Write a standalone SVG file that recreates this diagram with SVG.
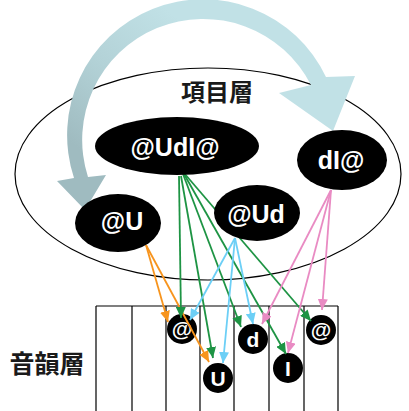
<svg xmlns="http://www.w3.org/2000/svg" width="409" height="411" viewBox="0 0 409 411">
<style>
.lbl{font-family:"Noto Sans CJK JP","Noto Sans CJK TC",sans-serif;font-weight:bold;fill:#1a1a1a;text-anchor:middle}
.nt{font-family:"Liberation Sans",Arial,sans-serif;font-weight:bold;fill:#fff;text-anchor:middle}
.st{font-family:"Liberation Sans",Arial,sans-serif;font-weight:bold;fill:#fff;text-anchor:middle;font-size:21px}
.tbl{stroke:#000;stroke-width:1.2;fill:none}
.c{fill:none;stroke-width:1.8}
.o{stroke:#F7941D}.g{stroke:#1E9444}.b{stroke:#6CCFF6}.p{stroke:#E98BC3}
</style>
<defs>
<linearGradient id="bg" gradientUnits="userSpaceOnUse" x1="80" y1="150" x2="180" y2="20">
<stop offset="0" stop-color="#9FBBC0"/>
<stop offset="0.5" stop-color="#B3D2D7"/>
<stop offset="1" stop-color="#C1E1E6"/>
</linearGradient>
<marker id="mo" markerUnits="userSpaceOnUse" markerWidth="11" markerHeight="10" refX="11" refY="5" orient="auto"><path d="M0,0 L11,5 L0,10 z" fill="#F7941D"/></marker>
<marker id="mg" markerUnits="userSpaceOnUse" markerWidth="11" markerHeight="10" refX="11" refY="5" orient="auto"><path d="M0,0 L11,5 L0,10 z" fill="#1E9444"/></marker>
<marker id="mb" markerUnits="userSpaceOnUse" markerWidth="11" markerHeight="10" refX="11" refY="5" orient="auto"><path d="M0,0 L11,5 L0,10 z" fill="#6CCFF6"/></marker>
<marker id="mp" markerUnits="userSpaceOnUse" markerWidth="11" markerHeight="10" refX="11" refY="5" orient="auto"><path d="M0,0 L11,5 L0,10 z" fill="#E98BC3"/></marker>
</defs>
<rect width="409" height="411" fill="#fff"/>
<g id="item-layer">
<ellipse cx="208" cy="174" rx="193" ry="106" fill="#fff" stroke="#000" stroke-width="1.2"/>
<text class="lbl" x="217" y="101" font-size="24">項目層</text>
</g>
<g id="cycle-arrow">
<path d="M74,178 A136,136 0 0 1 326,77 L355,76 L333,131 L279,93 L311,85 A121,121 0 0 0 88,177 L106,175 L85,210 L57,181 Z" fill="url(#bg)"/>
</g>
<g id="phon-layer">
<path class="tbl" d="M96,306 H338 M96,306 V411 M132,306 V411 M166,306 V411 M200,306 V411 M234,306 V411 M269,306 V411 M304,306 V411 M338,306 V411"/>
<text class="lbl" x="47" y="373" font-size="25">音韻層</text>
</g>
<g id="p1"><circle cx="182" cy="329" r="15" fill="#000"/><text class="st" x="182" y="336">@</text></g>
<g id="p2"><circle cx="218" cy="378" r="15" fill="#000"/><text class="st" x="218" y="386">U</text></g>
<g id="p3"><circle cx="253" cy="339" r="15" fill="#000"/><text class="st" x="253" y="347">d</text></g>
<g id="p4"><circle cx="288" cy="368" r="15" fill="#000"/><text class="st" x="288" y="376">I</text></g>
<g id="p5"><circle cx="321" cy="330" r="15" fill="#000"/><text class="st" x="321" y="337">@</text></g>
<g id="connectors">
<line class="c o" x1="146" y1="245" x2="168" y2="322" marker-end="url(#mo)"/>
<line class="c o" x1="146" y1="245" x2="209" y2="362" marker-end="url(#mo)"/>
<line class="c g" x1="179" y1="176" x2="181" y2="318" marker-end="url(#mg)"/>
<line class="c g" x1="181" y1="176" x2="213" y2="358" marker-end="url(#mg)"/>
<line class="c g" x1="183" y1="174" x2="241" y2="327" marker-end="url(#mg)"/>
<line class="c g" x1="184" y1="174" x2="286" y2="354" marker-end="url(#mg)"/>
<line class="c g" x1="184" y1="173" x2="311" y2="321" marker-end="url(#mg)"/>
<line class="c b" x1="235" y1="238" x2="190" y2="320" marker-end="url(#mb)"/>
<line class="c b" x1="235" y1="238" x2="223" y2="363" marker-end="url(#mb)"/>
<line class="c b" x1="235" y1="238" x2="253" y2="324" marker-end="url(#mb)"/>
<line class="c p" x1="331" y1="190" x2="262" y2="324" marker-end="url(#mp)"/>
<line class="c p" x1="331" y1="190" x2="288" y2="353" marker-end="url(#mp)"/>
<line class="c p" x1="331" y1="190" x2="322" y2="310" marker-end="url(#mp)"/>
</g>
<g id="n-udi"><ellipse cx="177" cy="146" rx="82" ry="29" fill="#000"/><text class="nt" x="175" y="156" font-size="25">@UdI@</text></g>
<g id="n-di"><ellipse cx="342" cy="160" rx="45" ry="30" fill="#000"/><text class="nt" x="341" y="169" font-size="25">dI@</text></g>
<g id="n-u"><ellipse cx="118" cy="223" rx="43" ry="29" fill="#000"/><text class="nt" x="122" y="230" font-size="25">@U</text></g>
<g id="n-ud"><ellipse cx="257" cy="213" rx="43" ry="28" fill="#000"/><text class="nt" x="256" y="223" font-size="25">@Ud</text></g>
</svg>
